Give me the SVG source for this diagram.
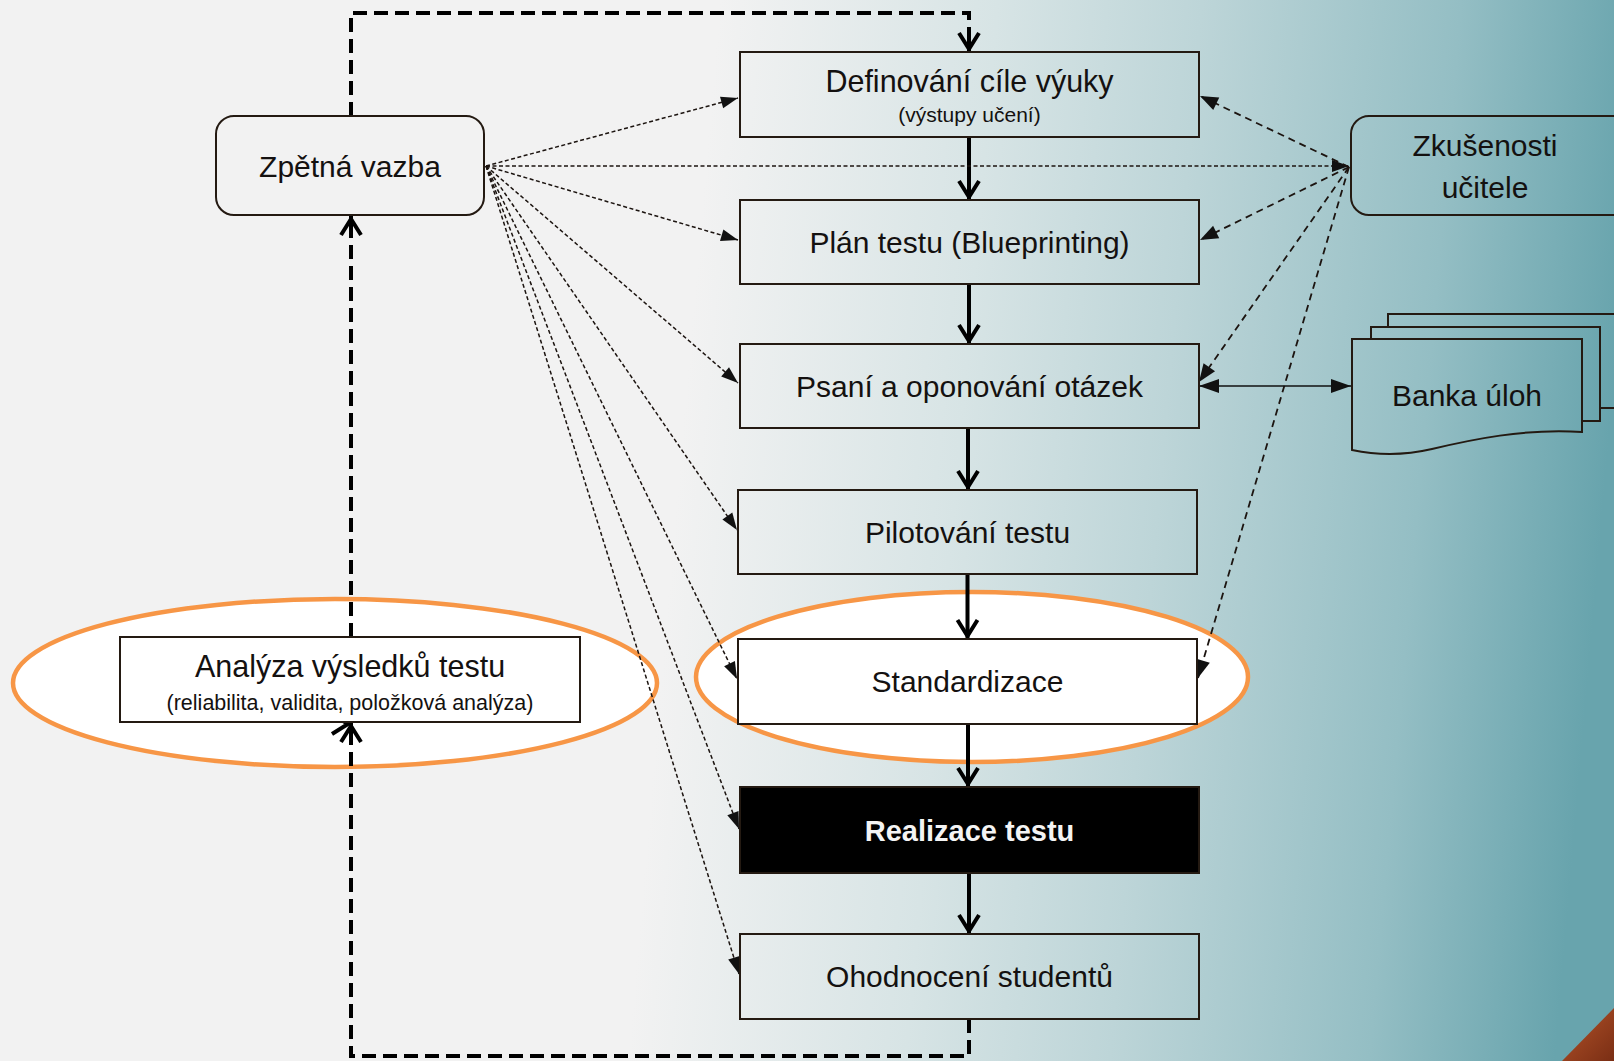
<svg xmlns="http://www.w3.org/2000/svg" width="1614" height="1061" viewBox="0 0 1614 1061">
<style>
text{font-family:"Liberation Sans",Arial,sans-serif;fill:#141110;text-anchor:middle}
.t{font-size:30px}
.s{font-size:21px}
.box{fill:none;stroke:#241a12;stroke-width:2}
.thin{fill:none;stroke:#1c1410;stroke-width:1.5;stroke-dasharray:4 2.5;marker-end:url(#tri)}
.zk{fill:none;stroke:#1c1410;stroke-width:1.8;stroke-dasharray:7 5;marker-end:url(#tri2)}
.solid{fill:none;stroke:#000;stroke-width:4;marker-end:url(#chev)}
.fb{fill:none;stroke:#000;stroke-width:4;stroke-dasharray:14 7}
.hl{fill:#fff;stroke:#f79646;stroke-width:4.5}
</style>
<defs>
<linearGradient id="bg" gradientUnits="userSpaceOnUse" x1="720" y1="0" x2="1640" y2="80">
<stop offset="0" stop-color="#f2f2f2"/>
<stop offset="0.3" stop-color="#d7e4e5"/>
<stop offset="0.52" stop-color="#bdd5d8"/>
<stop offset="0.8" stop-color="#94bec4"/>
<stop offset="1" stop-color="#68a4ad"/>
</linearGradient>
<linearGradient id="corner" x1="0" y1="0" x2="1" y2="1">
<stop offset="0" stop-color="#b5542a"/>
<stop offset="1" stop-color="#7a2e14"/>
</linearGradient>
<marker id="chev" markerUnits="userSpaceOnUse" viewBox="-24 -14 28 28" refX="0" refY="0" markerWidth="28" markerHeight="28" orient="auto" overflow="visible">
<path d="M-19,-10 L-3,0 L-19,10" fill="none" stroke="#000" stroke-width="4" stroke-dasharray="none"/>
</marker>
<marker id="tri" markerUnits="userSpaceOnUse" viewBox="-20 -8 22 16" refX="0" refY="0" markerWidth="22" markerHeight="16" orient="auto" overflow="visible">
<path d="M-17,-6 L0,0 L-17,6 Z" fill="#111"/>
</marker>
<marker id="tri2" markerUnits="userSpaceOnUse" viewBox="-20 -8 22 16" refX="0" refY="0" markerWidth="22" markerHeight="16" orient="auto" overflow="visible">
<path d="M-18,-7 L0,0 L-18,7 Z" fill="#111"/>
</marker>
<marker id="tri3" markerUnits="userSpaceOnUse" viewBox="-22 -9 24 18" refX="0" refY="0" markerWidth="24" markerHeight="18" orient="auto-start-reverse" overflow="visible">
<path d="M-20,-7 L0,0 L-20,7 Z" fill="#111"/>
</marker>
</defs>

<rect x="0" y="0" width="1614" height="1061" fill="url(#bg)"/>
<polygon points="1562,1061 1614,1008 1614,1061" fill="url(#corner)"/>

<g id="highlights">
<ellipse cx="335" cy="683" rx="322" ry="84" class="hl"/>
<ellipse cx="972" cy="677" rx="276" ry="85" class="hl"/>
</g>

<g id="connectors">
<!-- feedback loop -->
<path class="fb" d="M969,1019 V1056 H351 V724"/>
<path d="M351,724 L351,724" class="fb" marker-end="url(#chev)"/>
<line x1="351" y1="740" x2="351" y2="723" stroke="#000" stroke-width="4" marker-end="url(#chev)"/>
<path class="fb" d="M351,637 V216"/>
<line x1="351" y1="232" x2="351" y2="216" stroke="#000" stroke-width="4" marker-end="url(#chev)"/>
<path class="fb" d="M351,116 V13 H969 V52"/>
<line x1="969" y1="38" x2="969" y2="52" stroke="#000" stroke-width="4" marker-end="url(#chev)"/>
<!-- main flow -->
<line class="solid" x1="969" y1="137" x2="969" y2="200"/>
<line class="solid" x1="969" y1="284" x2="969" y2="344"/>
<line class="solid" x1="968" y1="428" x2="968" y2="490"/>
<line class="solid" x1="967.5" y1="574" x2="967.5" y2="639"/>
<line class="solid" x1="968" y1="724" x2="968" y2="787"/>
<line class="solid" x1="969" y1="873" x2="969" y2="934"/>
<!-- from Zpětná vazba -->
<line class="thin" x1="486" y1="166" x2="738" y2="98"/>
<line class="thin" x1="486" y1="166" x2="1349" y2="166"/>
<line class="thin" x1="486" y1="166" x2="738" y2="240"/>
<line class="thin" x1="486" y1="166" x2="738" y2="383"/>
<line class="thin" x1="486" y1="166" x2="737" y2="530"/>
<line class="thin" x1="486" y1="166" x2="737" y2="679"/>
<line class="thin" x1="486" y1="166" x2="739" y2="829"/>
<line class="thin" x1="486" y1="166" x2="739" y2="974"/>
<!-- from Zkušenosti učitele -->
<line class="zk" x1="1349" y1="167" x2="1200" y2="96"/>
<line class="zk" x1="1349" y1="167" x2="1200" y2="240"/>
<line class="zk" x1="1349" y1="167" x2="1199" y2="382"/>
<line class="zk" x1="1349" y1="167" x2="1198" y2="678"/>
<!-- Psaní <-> Banka -->
<line x1="1199" y1="386" x2="1351" y2="386" stroke="#111" stroke-width="1.6" marker-start="url(#tri3)" marker-end="url(#tri3)"/>
</g>

<g id="n-definovani">
<rect class="box" x="740" y="52" width="459" height="85"/>
<text class="t" x="969.5" y="92" style="font-size:30.5px">Definování cíle výuky</text>
<text class="s" x="969.5" y="122">(výstupy učení)</text>
</g>
<g id="n-plan">
<rect class="box" x="740" y="200" width="459" height="84"/>
<text class="t" x="969.5" y="253">Plán testu (Blueprinting)</text>
</g>
<g id="n-psani">
<rect class="box" x="740" y="344" width="459" height="84"/>
<text class="t" x="969.5" y="397">Psaní a oponování otázek</text>
</g>
<g id="n-pilotovani">
<rect class="box" x="738" y="490" width="459" height="84"/>
<text class="t" x="967.5" y="543">Pilotování testu</text>
</g>
<g id="n-standardizace">
<rect class="box" x="738" y="639" width="459" height="85" style="fill:#fff"/>
<text class="t" x="967.5" y="692">Standardizace</text>
</g>
<g id="n-realizace">
<rect class="box" x="740" y="787" width="459" height="86" style="fill:#000"/>
<text class="t" x="969.5" y="841" style="fill:#f4f4f4;font-weight:bold;font-size:29px">Realizace testu</text>
</g>
<g id="n-ohodnoceni">
<rect class="box" x="740" y="934" width="459" height="85"/>
<text class="t" x="969.5" y="987">Ohodnocení studentů</text>
</g>
<g id="n-zpetna">
<rect class="box" x="216" y="116" width="268" height="99" rx="18"/>
<text class="t" x="350" y="177">Zpětná vazba</text>
</g>
<g id="n-analyza">
<rect class="box" x="120" y="637" width="460" height="85" style="fill:#fff"/>
<text class="t" x="350" y="677" style="font-size:30.5px">Analýza výsledků testu</text>
<text class="s" x="350" y="710" style="font-size:21.5px">(reliabilita, validita, položková analýza)</text>
</g>
<g id="n-zkusenosti">
<rect class="box" x="1351" y="116" width="290" height="99" rx="18"/>
<text class="t" x="1485" y="156">Zkušenosti</text>
<text class="t" x="1485" y="198">učitele</text>
</g>
<g id="n-banka">
<rect x="1388" y="314" width="240" height="94" fill="url(#bg)" stroke="#241a12" stroke-width="2"/>
<rect x="1371" y="327" width="229" height="94" fill="url(#bg)" stroke="#241a12" stroke-width="2"/>
<path d="M1352,339 H1582 V432 C1525,428 1470,440 1432,449 C1402,456 1376,455 1352,450 Z" fill="url(#bg)" stroke="#241a12" stroke-width="2"/>
<text class="t" x="1467" y="406">Banka úloh</text>
</g>
</svg>
